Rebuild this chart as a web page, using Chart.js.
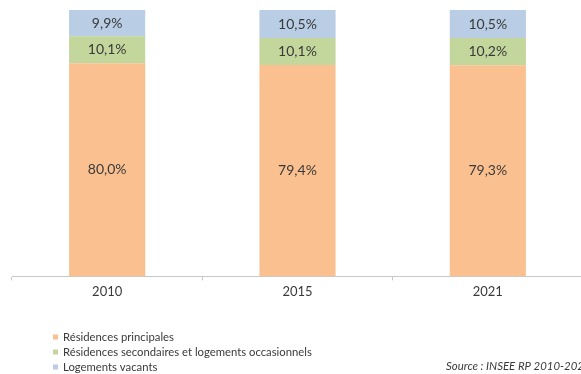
<!DOCTYPE html>
<html>
<head>
<meta charset="utf-8">
<script src="https://cdn.jsdelivr.net/npm/chart.js@4"></script>
<style>
  html, body { margin: 0; padding: 0; background: #fff; overflow: hidden; }
  #wrap { position: relative; width: 600px; height: 374px; }
</style>
</head>
<body>
<div id="wrap"><canvas id="c"></canvas></div>
<script>
const categories = ['2010', '2015', '2021'];
const principales = [80.0, 79.4, 79.3];
const secondaires = [10.1, 10.1, 10.2];
const vacants = [9.9, 10.5, 10.5];
const seriesNames = ['Résidences principales', 'Résidences secondaires et logements occasionnels', 'Logements vacants'];
const sourceText = 'Source : INSEE RP 2010-2021';

const FONT = 'Lato, "Open Sans", sans-serif';
const TXT = '#3a3a3a';

const fmt = v => v.toFixed(1).replace('.', ',') + '%';

const labelPlugin = {
  id: 'segLabels',
  afterDatasetsDraw(chart) {
    const ctx = chart.ctx;
    ctx.save();
    ctx.font = '14px ' + FONT;
    ctx.fillStyle = TXT;
    ctx.textAlign = 'center';
    ctx.textBaseline = 'middle';
    chart.data.datasets.forEach((ds, i) => {
      const meta = chart.getDatasetMeta(i);
      meta.data.forEach((el, j) => {
        const p = el.getProps(['x', 'y', 'base'], true);
        ctx.fillText(fmt(ds.data[j]), p.x, (p.y + p.base) / 2);
      });
    });
    ctx.restore();
  }
};

const legendPlugin = {
  id: 'customLegend',
  afterDraw(chart) {
    const ctx = chart.ctx;
    ctx.save();
    ctx.font = '11.3px ' + FONT;
    ctx.textBaseline = 'middle';
    ctx.textAlign = 'left';
    const rows = [337, 352, 367];
    chart.data.datasets.forEach((ds, i) => {
      ctx.fillStyle = ds.backgroundColor;
      ctx.fillRect(53, rows[i] - 2.5, 5, 5);
      ctx.fillStyle = TXT;
      ctx.fillText(ds.label, 63, rows[i]);
    });
    ctx.font = 'italic 11.4px ' + FONT;
    ctx.fillText(sourceText, 446, 366);
    ctx.restore();
  }
};

new Chart(document.getElementById('c'), {
  type: 'bar',
  data: {
    labels: categories,
    datasets: [
      { label: seriesNames[0], data: principales, backgroundColor: '#FAC090' },
      { label: seriesNames[1], data: secondaires, backgroundColor: '#C3D69B' },
      { label: seriesNames[2], data: vacants, backgroundColor: '#B9CDE5' }
    ]
  },
  options: {
    responsive: true,
    maintainAspectRatio: false,
    animation: false,
    events: [],
    layout: { padding: { left: 12, right: 17, top: 10, bottom: 70 } },
    plugins: { legend: { display: false }, tooltip: { enabled: false } },
    datasets: { bar: { barPercentage: 0.4, categoryPercentage: 1.0 } },
    scales: {
      x: {
        stacked: true,
        grid: { display: true, drawOnChartArea: false, drawTicks: true, tickLength: 4, color: '#c8c8c8', offset: true },
        border: { display: true, color: '#c8c8c8', width: 1 },
        ticks: { color: TXT, font: { family: FONT, size: 13 }, padding: 4 }
      },
      y: {
        stacked: true, display: false, min: 0, max: 100
      }
    }
  },
  plugins: [labelPlugin, legendPlugin]
});
</script>
</body>
</html>
